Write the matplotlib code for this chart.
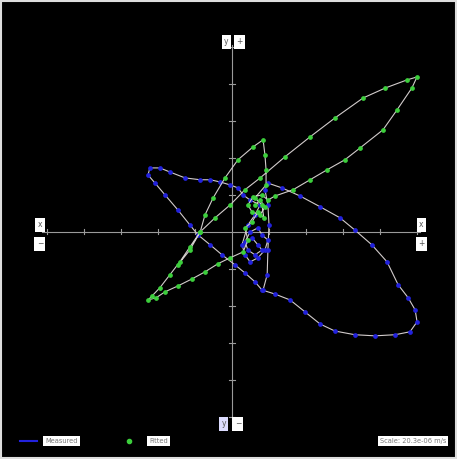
import numpy as np
import matplotlib.pyplot as plt
from matplotlib.patches import Rectangle

# measured track (axis units, one tick = 1)
blue_x = [0.54, 0.70, 0.81, 0.62, 0.43, 0.35, 0.49, 0.70, 0.81, 0.97, 0.89, 0.70, 0.49, 0.35, 0.27,
          0.43, 0.62, 0.76, 0.49, 0.30, 0.16, -0.05, -0.32, -0.59, -0.86, -1.27, -1.68, -1.95, -2.22,
          -2.27, -2.08, -1.81, -1.46, -1.14, -0.92, -0.59, -0.27, 0.08, 0.35, 0.62, 0.81, 1.16, 1.57,
          1.97, 2.38, 2.78, 3.32, 3.86, 4.41, 4.81, 5.00, 4.95, 4.76, 4.49, 4.19, 3.78, 3.32, 2.92,
          2.38, 1.84, 1.35, 0.97, 0.89, 0.97, 1.00, 0.97, 0.95, 0.84]
blue_y = [-0.16, -0.35, -0.49, -0.62, -0.49, -0.27, 0.00, 0.11, -0.08, -0.22, -0.49, -0.70, -0.81,
          -0.62, -0.35, 0.19, 0.46, 0.73, 0.86, 1.00, 1.19, 1.27, 1.35, 1.41, 1.41, 1.46, 1.62, 1.73,
          1.73, 1.54, 1.32, 1.00, 0.59, 0.19, -0.08, -0.35, -0.62, -0.89, -1.11, -1.35, -1.57, -1.68,
          -1.84, -2.16, -2.49, -2.68, -2.78, -2.81, -2.78, -2.70, -2.43, -2.11, -1.78, -1.43, -0.81,
          -0.35, 0.05, 0.38, 0.68, 0.97, 1.19, 1.32, 1.14, 0.73, 0.19, -0.49, -1.16, -1.57]

# fitted track
green_x = [0.62, 0.76, 0.89, 0.76, 0.54, 0.43, 0.57, 0.81, 0.97, 1.16, 1.65, 2.11, 2.57, 3.05, 3.46,
           4.08, 4.46, 4.86, 5.00, 4.73, 4.14, 3.54, 2.78, 2.11, 1.43, 0.76, 0.35, -0.05, -0.46, -0.86,
           -1.14, -1.41, -1.68, -1.95, -2.16, -2.27, -2.05, -1.81, -1.46, -1.08, -0.73, -0.38, -0.05,
           0.30, 0.43, 0.35, 0.54, 0.70, 0.86, 0.81, 0.62, 0.92, 0.92, 0.89, 0.84, 0.57, 0.16, -0.19,
           -0.51, -0.73, -0.86, -1.14, -1.46]
green_y = [0.73, 0.86, 0.68, 0.46, 0.54, 0.73, 0.95, 1.00, 0.86, 0.97, 1.14, 1.41, 1.68, 1.95, 2.27,
           2.76, 3.30, 3.89, 4.19, 4.11, 3.89, 3.62, 3.08, 2.57, 2.03, 1.46, 1.14, 0.73, 0.38, 0.00,
           -0.41, -0.81, -1.16, -1.51, -1.73, -1.84, -1.78, -1.62, -1.46, -1.27, -1.08, -0.86, -0.70,
           -0.54, -0.22, 0.11, 0.27, 0.54, 0.38, 0.73, 0.92, 1.27, 1.68, 2.08, 2.49, 2.30, 1.95, 1.46,
           0.92, 0.46, 0.00, -0.49, -0.89]

ticks = [-5, -4, -3, -2, -1, 1, 2, 3, 4, 5]
legend_labels = ["Measured", "Fitted"]
scale_label = "Scale: 20.3e-06 m/s"

fig = plt.figure(figsize=(4.57, 4.59), dpi=100, facecolor='black')
ax = fig.add_axes([0, 0, 1, 1])
ax.set_facecolor('black')
ax.set_xlim(-6.27, 6.08)
ax.set_ylim(-6.14, 6.27)
ax.set_axis_off()

AX = '#9a9a9a'
ax.plot([-5.14, 5.08], [0, 0], color=AX, lw=0.8)
ax.plot([0, 0], [-5.08, 5.05], color=AX, lw=0.8)
for t in ticks:
    ax.plot([t, t], [-0.07, 0.07], color=AX, lw=0.8)
    ax.plot([-0.07, 0.07], [t, t], color=AX, lw=0.8)

LC = '#d2cccc'
ax.plot(blue_x, blue_y, color=LC, lw=0.8, marker='o', ms=2.4,
        mfc='#2222dd', mec='#2222dd', zorder=3)
ax.plot(green_x, green_y, color=LC, lw=0.8, marker='o', ms=2.4,
        mfc='#3ccf3c', mec='#3ccf3c', zorder=4)

box = dict(boxstyle='square,pad=0.3', fc='white', ec='none')
box2 = dict(boxstyle='square,pad=0.3', fc='#dcdcff', ec='none')
FS = 5.5
# axis end labels
ax.text(-0.16, 5.14, 'y', fontsize=FS, color='#555555', ha='center', va='center', bbox=box)
ax.text(0.19, 5.14, '+', fontsize=FS, color='#555555', ha='center', va='center', bbox=box)
ax.text(-0.22, -5.19, 'y', fontsize=FS, color='#555555', ha='center', va='center', bbox=box2)
ax.text(0.16, -5.19, '−', fontsize=FS, color='#555555', ha='center', va='center', bbox=box)
ax.text(-5.19, 0.19, 'x', fontsize=FS, color='#555555', ha='center', va='center', bbox=box)
ax.text(-5.19, -0.32, '−', fontsize=FS, color='#555555', ha='center', va='center', bbox=box)
ax.text(5.11, 0.19, 'x', fontsize=FS, color='#555555', ha='center', va='center', bbox=box)
ax.text(5.11, -0.32, '+', fontsize=FS, color='#555555', ha='center', va='center', bbox=box)

# legend row
LY = -5.65
ax.plot([-5.73, -5.27], [LY, LY], color='#2222dd', lw=1.5)
ax.text(-5.05, LY, legend_labels[0], fontsize=4.8, color='#777777', va='center', bbox=box)
ax.plot([-2.78], [LY], marker='o', ms=3, color='#3ccf3c')
ax.text(-2.24, LY, legend_labels[1], fontsize=4.8, color='#777777', va='center', bbox=box)
ax.text(5.78, LY, scale_label, fontsize=4.8, color='#777777', va='center', ha='right', bbox=box)

fig.add_artist(Rectangle((0.002, 0.002), 0.996, 0.996, transform=fig.transFigure,
                         fill=False, ec='#dddddd', lw=1.5))

fig.savefig('out.png', dpi=100, facecolor='black')
